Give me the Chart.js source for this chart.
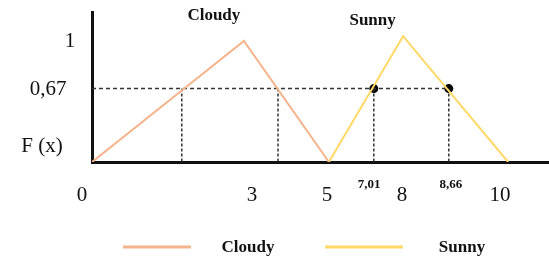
<!DOCTYPE html>
<html>
<head>
<meta charset="utf-8">
<script src="https://cdn.jsdelivr.net/npm/chart.js@4.4.0/dist/chart.umd.min.js"></script>
<style>
  body { margin: 0; background: #fff; }
  canvas { display: block; }
</style>
</head>
<body>
<canvas id="chart" width="549" height="259"></canvas>
<script>
// values (x in the picture's own horizontal units)
const cloudyX = [0, 3.79, 5.91];
const cloudyY = [0, 1.0, 0];
const sunnyX = [5.91, 7.76, 10.38];
const sunnyY = [0, 1.04, 0];

const cutLevel = 0.607;
const cutX = [2.24, 4.64, 7.03, 8.90];
const dotX = [7.03, 8.90];

const xTickLabels = ['0', '3', '5', '8', '10'];
const xTickPos = [-0.25, 3.99, 5.86, 7.73, 10.18];
const xSmallLabels = ['7,01', '8,66'];
const xSmallPos = [6.91, 8.95];
const yTickLabels = ['1', '0,67', 'F (x)'];
const yTickPos = [1.0, 0.6, 0.13];
const yTickX = [70, 48, 42];

const seriesNames = ['Cloudy', 'Sunny'];
const seriesColors = ['#f4b48c', '#ffd866'];
const namePos = [[3.04, 1.21], [7.0, 1.17]];

const toPoints = (xs, ys) => xs.map((x, i) => ({x: x, y: ys[i]}));

const dashStyle = {borderColor: '#333', borderWidth: 1.5, pointRadius: 0, showLine: true, fill: false};

const datasets = [
  {data: toPoints(cloudyX, cloudyY), borderColor: seriesColors[0], borderWidth: 2, pointRadius: 0, showLine: true},
  {data: toPoints(sunnyX, sunnyY), borderColor: seriesColors[1], borderWidth: 2, pointRadius: 0, showLine: true},
  Object.assign({data: [{x: 0, y: cutLevel}, {x: cutX[3], y: cutLevel}], borderDash: [4, 3]}, dashStyle)
];
for (let cx of cutX) {
  datasets.push(Object.assign({data: [{x: cx, y: cutLevel}, {x: cx, y: 0}], borderDash: [3, 2]}, dashStyle));
}
datasets.push({data: dotX.map(x => ({x: x, y: cutLevel})), pointRadius: 4.5, pointBackgroundColor: '#000', pointBorderWidth: 0, showLine: false});

const labelsPlugin = {
  id: 'labels',
  afterDraw(chart) {
    const ctx = chart.ctx;
    const xs = chart.scales.x, ys = chart.scales.y;
    ctx.save();
    ctx.fillStyle = '#111';
    ctx.textAlign = 'center';
    ctx.textBaseline = 'middle';
    ctx.font = '21px "Liberation Serif"';
    xTickLabels.forEach((t, i) => ctx.fillText(t, xs.getPixelForValue(xTickPos[i]), 195));
    yTickLabels.forEach((t, i) => ctx.fillText(t, yTickX[i], ys.getPixelForValue(yTickPos[i])));
    ctx.font = 'bold 13px "Liberation Serif"';
    xSmallLabels.forEach((t, i) => ctx.fillText(t, xs.getPixelForValue(xSmallPos[i]), 185));
    ctx.font = 'bold 17px "Liberation Serif"';
    seriesNames.forEach((t, i) => ctx.fillText(t, xs.getPixelForValue(namePos[i][0]), ys.getPixelForValue(namePos[i][1])));
    // legend
    const legendLines = [[123, 191], [325, 403]];
    const legendText = [248, 462];
    seriesNames.forEach((t, i) => {
      ctx.strokeStyle = seriesColors[i];
      ctx.lineWidth = 3;
      ctx.beginPath();
      ctx.moveTo(legendLines[i][0], 247);
      ctx.lineTo(legendLines[i][1], 247);
      ctx.stroke();
      ctx.fillText(t, legendText[i], 248);
    });
    ctx.restore();
  }
};

new Chart(document.getElementById('chart'), {
  type: 'scatter',
  data: {datasets: datasets},
  options: {
    responsive: false,
    animation: false,
    layout: {autoPadding: false, padding: {top: 12, left: 0, right: 0, bottom: 0}},
    plugins: {legend: {display: false}, tooltip: {enabled: false}},
    scales: {
      x: {
        type: 'linear', min: 0, max: 11.4,
        ticks: {display: false}, grid: {display: false, drawTicks: false},
        border: {display: true, color: '#111', width: 3},
        afterFit: s => { s.height = 97; }
      },
      y: {
        type: 'linear', min: 0, max: 1.24,
        ticks: {display: false}, grid: {display: false, drawTicks: false},
        border: {display: true, color: '#111', width: 3},
        afterFit: s => { s.width = 92; }
      }
    }
  },
  plugins: [labelsPlugin]
});
</script>
</body>
</html>
